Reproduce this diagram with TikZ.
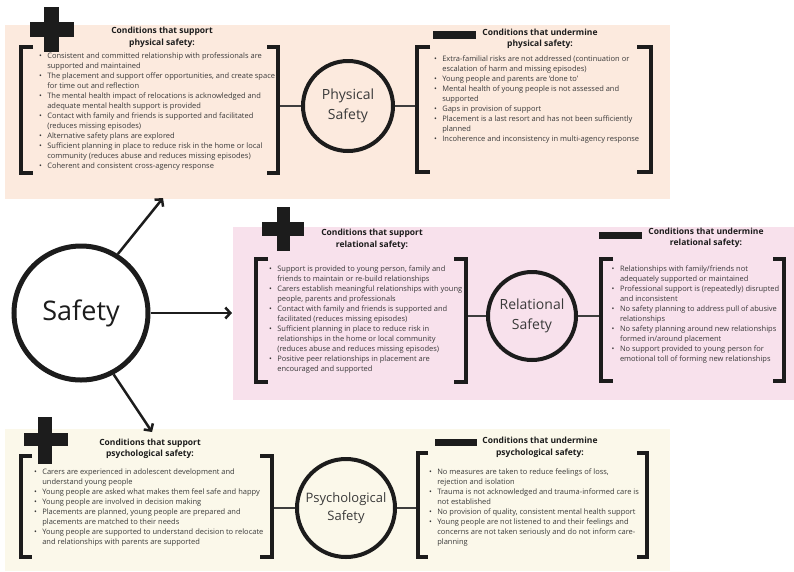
\documentclass[tikz,border=0pt]{standalone}
\usepackage{fontspec}
\setmainfont{Open Sans}
\usetikzlibrary{arrows.meta}
\definecolor{peach}{HTML}{FCEADE}
\definecolor{pinkbg}{HTML}{F8E1EC}
\definecolor{creambg}{HTML}{FBF8EA}
\definecolor{ink}{HTML}{1C1C1C}
\definecolor{txt}{HTML}{3A3A3A}
\newcommand{\bi}[1]{\makebox[8.3pt][l]{\textbullet}#1}
\newcommand{\ci}[1]{\hspace*{8.3pt}#1}
\tikzset{
 brk/.style={line width=4.5pt, draw=ink, line join=miter},
 conn/.style={line width=2pt, draw=ink!85},
 ring/.style={circle, draw=ink, line width=4pt, inner sep=0pt, align=center, text=txt, font=\fontsize{14}{19.5}\selectfont},
 list/.style={anchor=north west, inner sep=0pt, align=left, text=txt, font=\fontsize{7.5}{10}\selectfont},
 head/.style={inner sep=0pt, align=center, text=ink, font=\fontsize{8.5}{11.5}\selectfont\bfseries},
 arr/.style={line width=2.5pt, draw=ink, -{Straight Barb[length=5pt,width=11pt]}},
 bar/.style={fill=ink, draw=none},
}
\begin{document}
\begin{tikzpicture}[x=1pt,y=-1pt]
\useasboundingbox (0,0) rectangle (794,571);
\fill[white] (0,0) rectangle (794,571);
% panels
\fill[peach] (5,25) rectangle (670,199);
\fill[pinkbg] (233,227) rectangle (794,400);
\fill[creambg] (5,429) rectangle (670,571);
% plus signs
\fill[bar] (29.5,22) rectangle (73.5,37);
\fill[bar] (44,7) rectangle (59,52);
\fill[bar] (262,222) rectangle (304,236);
\fill[bar] (276.5,207) rectangle (290,251);
\fill[bar] (24,432.5) rectangle (68,446);
\fill[bar] (37.5,417) rectangle (52,464);
% minus bars
\fill[bar] (433,31) rectangle (476,39);
\fill[bar] (599,232) rectangle (642,239);
\fill[bar] (435,439) rectangle (477,446);

% central node
\node[circle, draw=ink, line width=5pt, minimum size=134pt, inner sep=0pt, text=ink, font=\fontsize{27}{30}\selectfont] (safety) at (81,313) {Safety};

% ring nodes
\node[ring, minimum size=90pt] (phys) at (348,106) {Physical\\Safety};
\node[ring, minimum size=88pt] (rel) at (532,316) {Relational\\Safety};
\node[ring, minimum size=98pt, font=\fontsize{13}{18}\selectfont] (psy) at (346,508) {Psychological\\Safety};

% headings
\node[head] (tlh) at (162,37.5) {Conditions that support\\physical safety:};
\node[head] (trh) at (540,39) {Conditions that undermine\\physical safety:};
\node[head] (mlh) at (372,239.5) {Conditions that support\\relational safety:};
\node[head] (mrh) at (706,238) {Conditions that undermine\\relational safety:};
\node[head] (blh) at (150,449) {Conditions that support\\psychological safety:};
\node[head] (brh) at (540,447.5) {Conditions that undermine\\psychological safety:};

% lists
\node[list] (tll) at (38.8,53) {%
\bi{Consistent and committed relationship with professionals are}\\
\ci{supported and maintained}\\
\bi{The placement and support offer opportunities, and create space}\\
\ci{for time out and reflection}\\
\bi{The mental health impact of relocations is acknowledged and}\\
\ci{adequate mental health support is provided}\\
\bi{Contact with family and friends is supported and facilitated}\\
\ci{(reduces missing episodes)}\\
\bi{Alternative safety plans are explored}\\
\bi{Sufficient planning in place to reduce risk in the home or local}\\
\ci{community (reduces abuse and reduces missing episodes)}\\
\bi{Coherent and consistent cross-agency response}};

\node[list] (trl) at (433.8,55.6) {%
\bi{Extra-familial risks are not addressed (continuation or}\\
\ci{escalation of harm and missing episodes)}\\
\bi{Young people and parents are ‘done to’}\\
\bi{Mental health of young people is not assessed and}\\
\ci{supported}\\
\bi{Gaps in provision of support}\\
\bi{Placement is a last resort and has not been sufficiently}\\
\ci{planned}\\
\bi{Incoherence and inconsistency in multi-agency response}};

\node[list] (mll) at (268.8,265.3) {%
\bi{Support is provided to young person, family and}\\
\ci{friends to maintain or re-build relationships}\\
\bi{Carers establish meaningful relationships with young}\\
\ci{people, parents and professionals}\\
\bi{Contact with family and friends is supported and}\\
\ci{facilitated (reduces missing episodes)}\\
\bi{Sufficient planning in place to reduce risk in}\\
\ci{relationships in the home or local community}\\
\ci{(reduces abuse and reduces missing episodes)}\\
\bi{Positive peer relationships in placement are}\\
\ci{encouraged and supported}};

\node[list] (mrl) at (611.5,265.3) {%
\bi{Relationships with family/friends not}\\
\ci{adequately supported or maintained}\\
\bi{Professional support is (repeatedly) disrupted}\\
\ci{and inconsistent}\\
\bi{No safety planning to address pull of abusive}\\
\ci{relationships}\\
\bi{No safety planning around new relationships}\\
\ci{formed in/around placement}\\
\bi{No support provided to young person for}\\
\ci{emotional toll of forming new relationships}};

\node[list] (bll) at (33.8,468.3) {%
\bi{Carers are experienced in adolescent development and}\\
\ci{understand young people}\\
\bi{Young people are asked what makes them feel safe and happy}\\
\bi{Young people are involved in decision making}\\
\bi{Placements are planned, young people are prepared and}\\
\ci{placements are matched to their needs}\\
\bi{Young people are supported to understand decision to relocate}\\
\ci{and relationships with parents are supported}};

\node[list] (brl) at (428.8,468.3) {%
\bi{No measures are taken to reduce feelings of loss,}\\
\ci{rejection and isolation}\\
\bi{Trauma is not acknowledged and trauma-informed care is}\\
\ci{not established}\\
\bi{No provision of quality, consistent mental health support}\\
\bi{Young people are not listened to and their feelings and}\\
\ci{concerns are not taken seriously and do not inform care-}\\
\ci{planning}};

% brackets
\draw[brk] (33,47) -- (21,47) -- (21,173) -- (33,173);
\draw[brk] (267,47) -- (278,47) -- (278,173) -- (267,173);
\draw[brk] (430,47) -- (417,47) -- (417,172) -- (430,172);
\draw[brk] (637,47) -- (651,47) -- (651,172) -- (637,172);
\draw[brk] (268,259) -- (256,259) -- (256,382) -- (268,382);
\draw[brk] (454,259) -- (466,259) -- (466,382) -- (454,382);
\draw[brk] (613,259) -- (601,259) -- (601,381) -- (613,381);
\draw[brk] (773,259) -- (784,259) -- (784,381) -- (773,381);
\draw[brk] (32,456) -- (21,456) -- (21,557) -- (32,557);
\draw[brk] (260,456) -- (272,456) -- (272,557) -- (260,557);
\draw[brk] (428,453) -- (418,453) -- (418,557) -- (428,557);
\draw[brk] (637,453) -- (647,453) -- (647,557) -- (637,557);

% connector end points
\coordinate (tlR) at (280,106);
\coordinate (trL) at (415,106);
\coordinate (mlR) at (468,316);
\coordinate (mrL) at (599,316);
\coordinate (blR) at (274,508);
\coordinate (brL) at (416,508);
\draw[conn] (tlR) -- (phys.west);
\draw[conn] (phys.east) -- (trL);
\draw[conn] (mlR) -- (rel.west);
\draw[conn] (rel.east) -- (mrL);
\draw[conn] (blR) -- (psy.west);
\draw[conn] (psy.east) -- (brL);

% arrows
\coordinate (tipP) at (163,198);
\coordinate (tipR) at (232,313);
\coordinate (tipB) at (152,432);
\draw[arr] (safety.58) -- (tipP);
\draw[arr] (safety.east) -- (tipR);
\draw[arr] (safety.-62) -- (tipB);
\end{tikzpicture}
\end{document}
